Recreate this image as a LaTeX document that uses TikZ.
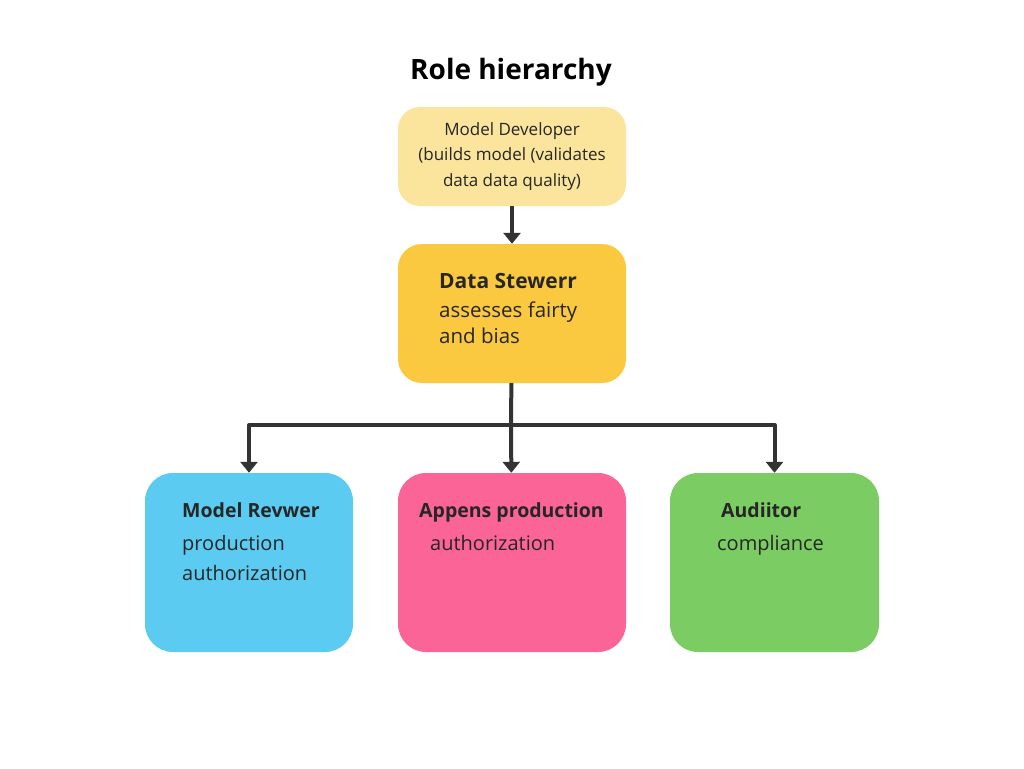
\documentclass[tikz,border=0pt]{standalone}
\usepackage{fontspec}
\setmainfont{Open Sans}
\usetikzlibrary{arrows.meta}
\definecolor{devyellow}{HTML}{FBE59C}
\definecolor{stewgold}{HTML}{FBC940}
\definecolor{revblue}{HTML}{5CCBF1}
\definecolor{apppink}{HTML}{FA6497}
\definecolor{audgreen}{HTML}{7BCC63}
\definecolor{linkgray}{HTML}{333333}
\begin{document}
\begin{tikzpicture}[line join=round, >={Triangle[length=11pt,width=17pt]}, x=1pt, y=-1pt]
	\tikzset{box/.style={rectangle, rounded corners=24pt, inner sep=0pt},
		link/.style={draw=linkgray, line width=4pt},
		txt/.style={inner sep=0pt, anchor=base west, text=black!85, font=\fontsize{20}{24}\selectfont},
		head/.style={txt, font=\fontsize{19.5}{23}\selectfont\bfseries}}
	\useasboundingbox (0,0) rectangle (1024,768);
	\fill[white] (0,0) rectangle (1024,768);
	\node[inner sep=0pt, font=\fontsize{28}{32}\selectfont\bfseries] (title) at (511,72) {Role hierarchy};
	% boxes
	\node[box, rounded corners=22pt, fill=devyellow, minimum width=228pt, minimum height=99pt] (dev) at (512,156.5) {};
	\node[box, fill=stewgold, minimum width=228pt, minimum height=139pt] (stew) at (512,313.5) {};
	\node[box, rounded corners=28pt, fill=revblue, minimum width=208pt, minimum height=179pt] (rev) at (249,562.5) {};
	\node[box, rounded corners=28pt, fill=apppink, minimum width=228pt, minimum height=179pt] (app) at (512,562.5) {};
	\node[box, rounded corners=28pt, fill=audgreen, minimum width=209pt, minimum height=179pt] (aud) at (774.5,562.5) {};
	% texts
	\node[inner sep=0pt, align=center, font=\fontsize{17}{25.5}\selectfont, text=black!85] (devtxt) at (dev) {Model Developer\\(builds model (validates\\data data quality)};
	\node[head, font=\fontsize{21}{25}\selectfont\bfseries] (stewhead) at (439,288) {Data Stewerr};
	\node[txt, font=\fontsize{20.5}{24}\selectfont] (stewl1) at (439,317) {assesses fairty};
	\node[txt, font=\fontsize{20.5}{24}\selectfont] (stewl2) at (439,343) {and bias};
	\node[head] (revhead) at (182,517) {Model Revwer};
	\node[txt] (revl1) at (182,550) {production};
	\node[txt] (revl2) at (182,580) {authorization};
	\node[head] (apphead) at (419,517) {Appens production};
	\node[txt] (appl1) at (430,550) {authorization};
	\node[head] (audhead) at (721,517) {Audiitor};
	\node[txt] (audl1) at (717,550) {compliance};
	% connectors
	\coordinate (split) at (511,425);
	\draw[link, ->] (dev) -- (stew);
	\draw[link] (stew) -- (split);
	\draw[link, ->] (split) -| (rev);
	\draw[link, ->] (split) -| (aud);
	\draw[link, ->] (split) -- (app);
\end{tikzpicture}
\end{document}
